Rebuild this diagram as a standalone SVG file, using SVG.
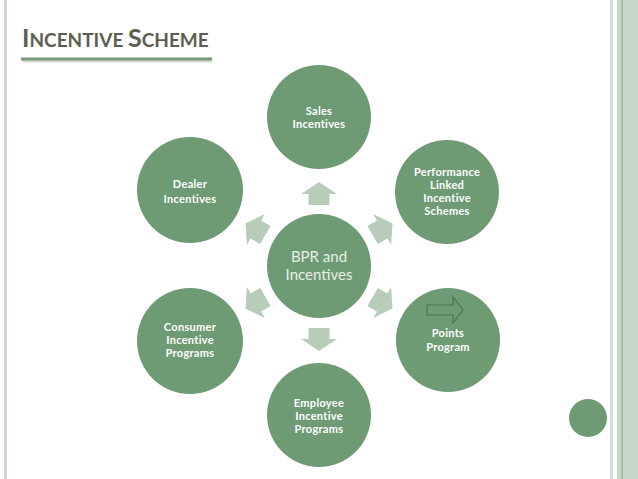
<svg xmlns="http://www.w3.org/2000/svg" width="638" height="479" viewBox="0 0 638 479">
<style>
.node{fill:#6e9b74}
.lbl{font-family:Lato,"Open Sans","Liberation Sans",sans-serif;font-weight:bold;font-size:11px;fill:#ffffff;text-anchor:middle;letter-spacing:0.3px}
.ctr{font-family:Lato,"Open Sans","Liberation Sans",sans-serif;font-size:15px;fill:#e6efe6;text-anchor:middle}
.arr{fill:#b8ccba}
</style>
<defs>
<polygon id="ar" points="-10.5,12 -10.5,1 -18,1 0,-11 18,1 10.5,1 10.5,12"/>
<filter id="sh" x="-5%" y="-100%" width="110%" height="300%"><feGaussianBlur stdDeviation="1"/></filter>
</defs>
<rect width="638" height="479" fill="#ffffff"/>
<!-- borders -->
<rect x="4" y="0" width="3" height="479" fill="#c8d8ca"/>
<rect x="610" y="0" width="3" height="479" fill="#d2ddd3"/>
<rect x="617" y="0" width="21" height="479" fill="#c6d8c9"/>
<rect x="621.5" y="0" width="1.2" height="479" fill="#8db292"/>
<!-- title -->
<g id="title">
<text x="22" y="47" font-family="Lato,'Open Sans','Liberation Sans',sans-serif" font-weight="bold" fill="#5b5e50" font-size="19"><tspan font-size="25">I</tspan>NCENTIVE <tspan font-size="25">S</tspan>CHEME</text>
<rect x="22" y="59" width="190" height="3" fill="#8a8f88" opacity="0.5" filter="url(#sh)"/>
<rect x="21" y="57.5" width="191" height="3" fill="#789b7d"/>
</g>
<!-- connectors (arrows) -->
<g id="connectors" class="arr">
<use href="#ar" transform="translate(319,193)"/>
<use href="#ar" transform="translate(383,229) rotate(60)"/>
<use href="#ar" transform="translate(383,303) rotate(120)"/>
<use href="#ar" transform="translate(319,340) rotate(180)"/>
<use href="#ar" transform="translate(255,303) rotate(240)"/>
<use href="#ar" transform="translate(255,229) rotate(300)"/>
</g>
<g id="center">
<circle class="node" cx="319" cy="266" r="52"/>
<text class="ctr" x="319" y="262">BPR and</text>
<text class="ctr" x="319" y="280">Incentives</text>
</g>
<g id="sales">
<circle class="node" cx="319" cy="117" r="52"/>
<text class="lbl" x="319" y="115">Sales</text>
<text class="lbl" x="319" y="128">Incentives</text>
</g>
<g id="performance">
<circle class="node" cx="447" cy="192" r="52"/>
<text class="lbl" x="447" y="176">Performance</text>
<text class="lbl" x="447" y="189">Linked</text>
<text class="lbl" x="447" y="202">Incentive</text>
<text class="lbl" x="447" y="215">Schemes</text>
</g>
<g id="points">
<circle class="node" cx="448" cy="340" r="52"/>
<polygon points="427,305 453,305 453,297 463,310 453,323 453,315 427,315" fill="none" stroke="#4c7452" stroke-width="1.2"/>
<text class="lbl" x="448" y="337">Points</text>
<text class="lbl" x="448" y="351">Program</text>
</g>
<g id="employee">
<circle class="node" cx="319" cy="415" r="52"/>
<text class="lbl" x="319" y="407">Employee</text>
<text class="lbl" x="319" y="420">Incentive</text>
<text class="lbl" x="319" y="433">Programs</text>
</g>
<g id="consumer">
<circle class="node" cx="190" cy="341" r="53"/>
<text class="lbl" x="190" y="331">Consumer</text>
<text class="lbl" x="190" y="344">Incentive</text>
<text class="lbl" x="190" y="357">Programs</text>
</g>
<g id="dealer">
<circle class="node" cx="190" cy="190" r="53"/>
<text class="lbl" x="190" y="188">Dealer</text>
<text class="lbl" x="190" y="203">Incentives</text>
</g>
<g id="corner">
<circle class="node" cx="588" cy="418" r="19"/>
</g>
</svg>
